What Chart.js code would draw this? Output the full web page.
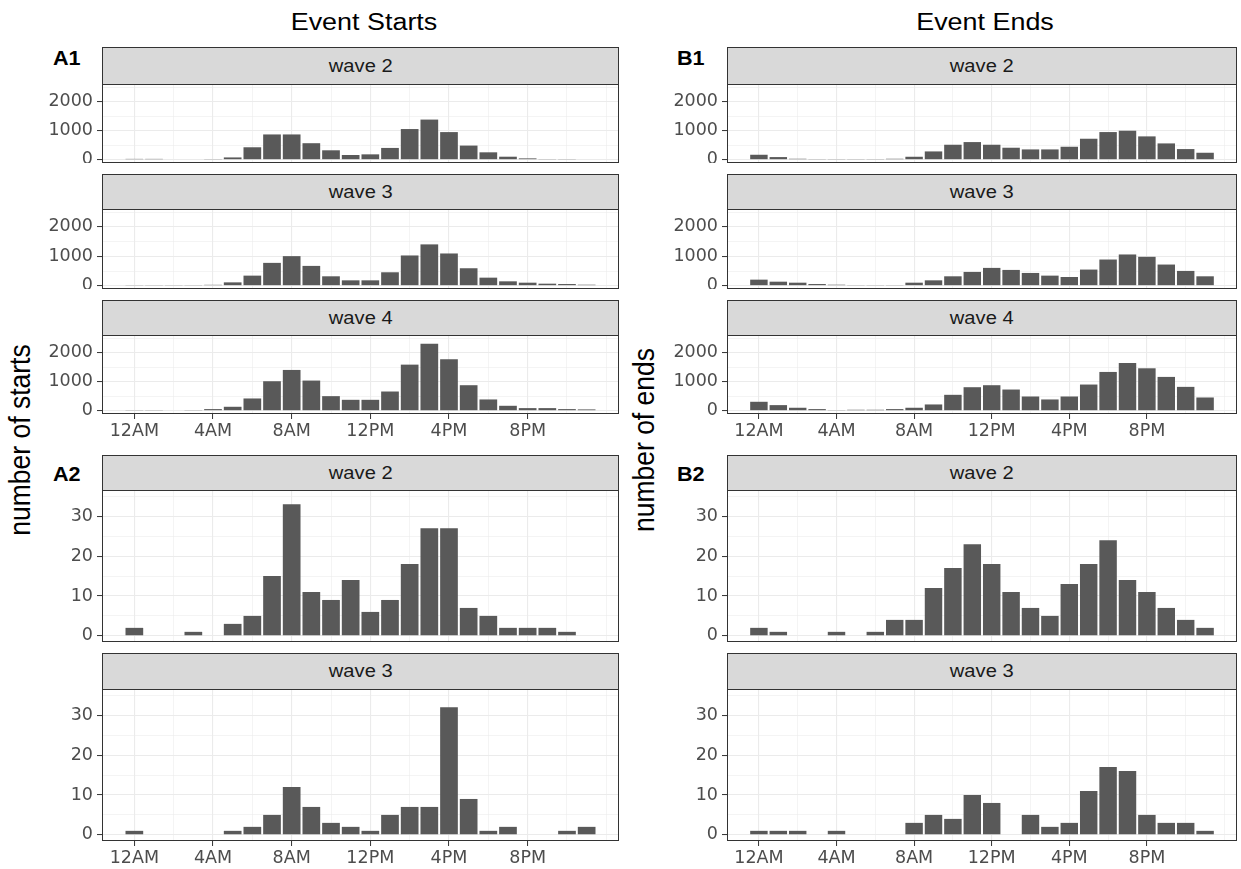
<!DOCTYPE html>
<html>
<head>
<meta charset="utf-8">
<script src="https://cdn.jsdelivr.net/npm/chart.js@4.4.1/dist/chart.umd.min.js"></script>
<style>
  html, body { margin:0; padding:0; background:#ffffff; }
  body { width:1241px; height:869px; position:relative; overflow:hidden; font-family:"Liberation Sans", Arial, sans-serif; }
  .strip { position:absolute; background:#d9d9d9; border:1px solid #333333; box-sizing:border-box; color:#1a1a1a; font-size:17.5px; display:flex; align-items:center; justify-content:center; }
  .strip span { display:inline-block; transform:scaleX(1.15); }
  .title { position:absolute; font-size:23px; color:#000; white-space:nowrap; transform:translate(-50%,-50%) scaleX(1.17); }
  .tag { position:absolute; font-size:20px; font-weight:bold; color:#000; transform:translate(0,-50%) scaleX(1.08); transform-origin:left center; }
  .ytitle { position:absolute; font-size:26.5px; color:#000; white-space:nowrap; transform:translate(-50%,-50%) rotate(-90deg) scaleY(1.1); }
  canvas { position:absolute; }
</style>
</head>
<body>
<script>
// ---------- data ----------
const hours = [0,1,2,3,4,5,6,7,8,9,10,11,12,13,14,15,16,17,18,19,20,21,22,23];
const hourTickValues = [0,4,8,12,16,20];
const hourTickLabels = ['12AM','4AM','8AM','12PM','4PM','8PM'];
const hourGridValues = [0,2,4,6,8,10,12,14,16,18,20,22,24];
const bigCountTicks = [0,500,1000,1500,2000,2500];
const bigCountLabels = [0,1000,2000];
const smallCountTicks = [0,5,10,15,20,25,30,35];
const smallCountLabels = [0,10,20,30];
const waveNames = ['wave 2','wave 3','wave 4'];

// A1: event starts (all)
const startsWave2 = [30,30,0,0,25,80,430,872,872,570,326,163,186,407,1058,1384,953,488,256,105,47,25,25,20];
const startsWave3 = [25,25,25,25,30,114,343,777,1006,674,320,183,183,457,1029,1406,1097,594,274,149,103,69,57,34];
const startsWave4 = [25,25,0,25,57,137,423,1017,1406,1040,503,377,377,663,1589,2309,1771,880,389,171,91,91,57,46];
// B1: event ends (all)
const endsWave2 = [172,92,34,25,25,25,25,34,103,287,517,609,517,414,356,356,448,724,954,1000,805,563,368,241];
const endsWave3 = [206,137,103,57,34,25,25,25,103,183,320,469,606,537,434,343,297,549,891,1063,983,720,503,320];
const endsWave4 = [309,194,103,57,25,34,34,57,103,217,549,811,880,731,491,389,491,903,1337,1646,1463,1166,823,457];
// A2: event starts (subset)
const startsSubWave2 = [2,0,0,1,0,3,5,15,33,11,9,14,6,9,18,27,27,7,5,2,2,2,1,0];
const startsSubWave3 = [1,0,0,0,0,1,2,5,12,7,3,2,1,5,7,7,32,9,1,2,0,0,1,2];
// B2: event ends (subset)
const endsSubWave2 = [2,1,0,0,1,0,1,4,4,12,17,23,18,11,7,5,13,18,24,14,11,7,4,2];
const endsSubWave3 = [1,1,1,0,1,0,0,0,3,5,4,10,8,0,5,2,3,11,17,16,5,3,3,1];

// ---------- layout ----------
const cols = [ {x0:102, x1:619}, {x0:727, x1:1237} ];
const rows = [
  {strip:47,  top:84,  bottom:163, big:true,  axis:false},
  {strip:174, top:209, bottom:289, big:true,  axis:false},
  {strip:300, top:335, bottom:414, big:true,  axis:true},
  {strip:455, top:490, bottom:642, big:false, axis:false},
  {strip:653, top:689, bottom:841, big:false, axis:true}
];
const panels = [
  {col:0,row:0,name:waveNames[0],vals:startsWave2},
  {col:0,row:1,name:waveNames[1],vals:startsWave3},
  {col:0,row:2,name:waveNames[2],vals:startsWave4},
  {col:0,row:3,name:waveNames[0],vals:startsSubWave2},
  {col:0,row:4,name:waveNames[1],vals:startsSubWave3},
  {col:1,row:0,name:waveNames[0],vals:endsWave2},
  {col:1,row:1,name:waveNames[1],vals:endsWave3},
  {col:1,row:2,name:waveNames[2],vals:endsWave4},
  {col:1,row:3,name:waveNames[0],vals:endsSubWave2},
  {col:1,row:4,name:waveNames[1],vals:endsSubWave3}
];

const Y_AXIS_W = 62;
const X_AXIS_H = 30;
const TICK_FONT = {family:'"DejaVu Sans", "Liberation Sans", Arial, sans-serif', size:17.5};

function addDiv(cls, text, style, inner) {
  const d = document.createElement('div');
  d.className = cls;
  if (inner) { const s = document.createElement('span'); s.textContent = text; d.appendChild(s); }
  else d.textContent = text;
  Object.assign(d.style, style);
  document.body.appendChild(d);
  return d;
}

// titles and tags
addDiv('title','Event Starts',{left:'364px', top:'22px'});
addDiv('title','Event Ends',{left:'985px', top:'22px'});
addDiv('tag','A1',{left:'53px', top:'58px'});
addDiv('tag','A2',{left:'53px', top:'474px'});
addDiv('tag','B1',{left:'677px', top:'58px'});
addDiv('tag','B2',{left:'677px', top:'474px'});
addDiv('ytitle','number of starts',{left:'21px', top:'440px'});
addDiv('ytitle','number of ends',{left:'645px', top:'440px'});

const borderPlugin = {
  id:'panelBorder',
  afterDraw(chart) {
    const a = chart.chartArea, c = chart.ctx;
    c.save();
    c.strokeStyle = '#333333';
    c.lineWidth = 1;
    c.strokeRect(a.left+0.5, a.top+0.5, a.right-a.left-1, a.bottom-a.top-1);
    c.restore();
  }
};

function zeroPad(s) { s.paddingTop = 0; s.paddingBottom = 0; s.paddingLeft = 0; s.paddingRight = 0; }

panels.forEach(p => {
  const col = cols[p.col], row = rows[p.row];
  addDiv('strip', p.name, {left:col.x0+'px', top:row.strip+'px', width:(col.x1-col.x0)+'px', height:(row.top-row.strip+1)+'px'}, true);

  const cv = document.createElement('canvas');
  const w = (col.x1 - col.x0) + Y_AXIS_W;
  const h = (row.bottom - row.top) + (row.axis ? X_AXIS_H : 0);
  cv.width = w; cv.height = h;
  cv.style.left = (col.x0 - Y_AXIS_W) + 'px';
  cv.style.top = row.top + 'px';
  cv.style.width = w + 'px'; cv.style.height = h + 'px';
  document.body.appendChild(cv);

  const yTicks = row.big ? bigCountTicks : smallCountTicks;
  const yLabels = row.big ? bigCountLabels : smallCountLabels;
  const yMin = row.big ? -112 : -1.55;
  const yMax = row.big ? 2610 : 36.6;

  new Chart(cv, {
    type:'bar',
    data:{
      datasets:[{
        data: hours.map((hr,i)=>({x:hr, y:p.vals[i]})),
        backgroundColor:'#595959',
        borderWidth:0,
        barPercentage:0.9,
        categoryPercentage:1.0
      }]
    },
    options:{
      responsive:false,
      maintainAspectRatio:false,
      animation:false,
      devicePixelRatio:1,
      layout:{padding:0},
      plugins:{legend:{display:false}, tooltip:{enabled:false}},
      scales:{
        x:{
          type:'linear',
          min:-1.645, max:24.645,
          offset:false,
          border:{display:false},
          grid:{
            offset:false,
            drawTicks: row.axis,
            tickLength:5,
            color:'#ebebeb',
            lineWidth: ctx => (hourTickValues.includes(ctx.tick.value) ? 1.1 : 0.55),
            tickColor: ctx => (hourTickValues.includes(ctx.tick.value) ? '#333333' : 'rgba(0,0,0,0)'),
            tickWidth:1
          },
          afterBuildTicks: s => { s.ticks = hourGridValues.map(v=>({value:v})); },
          afterFit: s => { s.height = row.axis ? X_AXIS_H : 0; zeroPad(s); },
          ticks:{
            display: row.axis,
            autoSkip:false, maxRotation:0, minRotation:0,
            padding:2,
            color:'#4d4d4d',
            font:TICK_FONT,
            callback: v => { const k = hourTickValues.indexOf(v); return k >= 0 ? hourTickLabels[k] : ''; }
          }
        },
        y:{
          type:'linear',
          min:yMin, max:yMax,
          border:{display:false},
          grid:{
            drawTicks:true,
            tickLength:5,
            color:'#ebebeb',
            lineWidth: ctx => (yLabels.includes(ctx.tick.value) ? 1.1 : 0.55),
            tickColor: ctx => (yLabels.includes(ctx.tick.value) ? '#333333' : 'rgba(0,0,0,0)'),
            tickWidth:1
          },
          afterBuildTicks: s => { s.ticks = yTicks.map(v=>({value:v})); },
          afterFit: s => { s.width = Y_AXIS_W; zeroPad(s); },
          ticks:{
            autoSkip:false,
            padding:4,
            color:'#4d4d4d',
            font:TICK_FONT,
            callback: v => (yLabels.includes(v) ? String(v) : '')
          }
        }
      }
    },
    plugins:[borderPlugin]
  });
});
</script>
</body>
</html>
